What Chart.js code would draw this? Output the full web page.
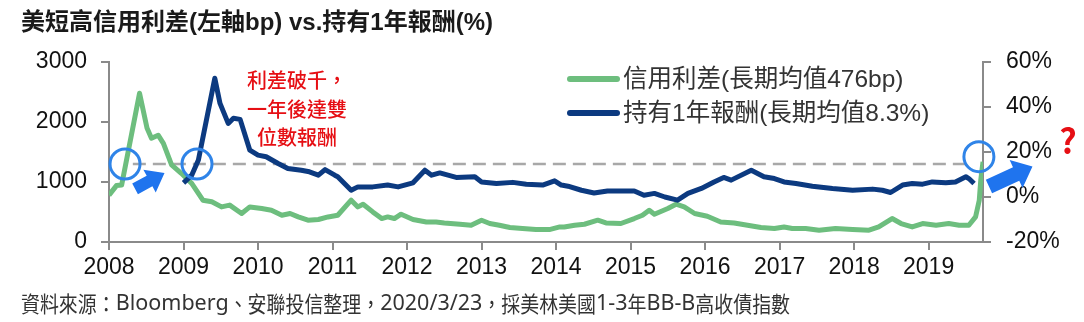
<!DOCTYPE html>
<html>
<head>
<meta charset="utf-8">
<script src="https://cdn.jsdelivr.net/npm/chart.js@4/dist/chart.umd.min.js"></script>
<style>
  html, body { margin: 0; padding: 0; background: #ffffff; }
  #wrap { width: 1084px; height: 322px; position: relative; }
</style>
</head>
<body>
<div id="wrap"><canvas id="chart" width="1084" height="322"></canvas></div>
<script>
// Short-duration US high-yield credit spread (bp, left axis)
const spreadYears = [
  2008.00, 2008.10, 2008.17, 2008.41, 2008.51, 2008.57, 2008.66, 2008.73, 2008.84, 2008.97,
  2009.11, 2009.26, 2009.38, 2009.51, 2009.62, 2009.78, 2009.89, 2010.05, 2010.18, 2010.32,
  2010.43, 2010.54, 2010.67, 2010.81, 2010.94, 2011.07, 2011.25, 2011.34, 2011.41, 2011.54,
  2011.66, 2011.74, 2011.83, 2011.92, 2012.08, 2012.26, 2012.39, 2012.50, 2012.71, 2012.86,
  2013.00, 2013.11, 2013.24, 2013.38, 2013.55, 2013.73, 2013.91, 2014.05, 2014.11, 2014.25,
  2014.38, 2014.56, 2014.67, 2014.87, 2015.05, 2015.16, 2015.25, 2015.32, 2015.50, 2015.61,
  2015.72, 2015.86, 2016.03, 2016.21, 2016.39, 2016.57, 2016.75, 2016.93, 2017.06, 2017.17,
  2017.35, 2017.53, 2017.75, 2017.98, 2018.20, 2018.33, 2018.51, 2018.63, 2018.78, 2018.92,
  2019.10, 2019.27, 2019.41, 2019.54, 2019.63, 2019.68, 2019.70, 2019.73
];
const spreadBp = [
  780, 940, 950, 2480, 1900, 1730, 1780, 1645, 1285, 1145,
  977, 697, 670, 585, 615, 475, 585, 558, 530, 446,
  475, 418, 363, 375, 418, 446, 697, 585, 630, 502,
  391, 418, 391, 463, 375, 334, 334, 318, 296, 279,
  363, 308, 279, 241, 224, 207, 207, 251, 251, 279,
  296, 363, 318, 308, 391, 446, 530, 463, 558, 630,
  585, 475, 430, 334, 318, 279, 241, 224, 251, 224,
  224, 196, 224, 207, 196, 251, 391, 308, 251, 308,
  279, 308, 279, 279, 418, 697, 1032, 1338
];

// 1-year holding return (%, right axis)
const returnYears = [
  2009.00, 2009.11, 2009.20, 2009.42, 2009.49, 2009.60, 2009.67, 2009.76, 2009.89, 2010.00,
  2010.11, 2010.27, 2010.40, 2010.58, 2010.69, 2010.81, 2010.90, 2011.03, 2011.07, 2011.25,
  2011.34, 2011.54, 2011.74, 2011.88, 2012.08, 2012.24, 2012.33, 2012.44, 2012.66, 2012.91,
  2013.00, 2013.20, 2013.42, 2013.60, 2013.82, 2013.98, 2014.07, 2014.16, 2014.34, 2014.51,
  2014.69, 2014.92, 2015.05, 2015.18, 2015.32, 2015.46, 2015.63, 2015.77, 2015.95, 2016.12,
  2016.25, 2016.35, 2016.62, 2016.79, 2016.93, 2017.06, 2017.22, 2017.44, 2017.71, 2017.98,
  2018.25, 2018.38, 2018.49, 2018.65, 2018.78, 2018.92, 2019.05, 2019.23, 2019.36, 2019.50,
  2019.54, 2019.61
];
const returnPct = [
  6.3, 9.7, 16.4, 52.8, 41.6, 32.7, 35.0, 34.5, 20.8, 18.6,
  17.9, 14.9, 12.7, 11.9, 11.2, 9.7, 12.2, 9.7, 9.0, 3.0,
  4.5, 4.5, 5.3, 4.5, 6.3, 11.9, 9.7, 10.7, 8.7, 9.0,
  6.7, 6.0, 6.5, 5.7, 5.3, 7.2, 5.3, 4.8, 3.0, 1.8,
  2.7, 2.7, 2.7, 0.8, 1.6, 0.0, -1.4, 1.6, 3.8, 6.7,
  8.7, 7.5, 11.9, 9.0, 8.2, 6.7, 6.0, 4.8, 3.8, 3.0,
  3.5, 3.0, 2.0, 5.3, 6.0, 5.7, 6.7, 6.3, 6.7, 9.0,
  8.2, 6.0
];

// Reference level (bp) shown as a dashed guide
const guideYears = [2008.32, 2019.58];
const guideBp = [1300, 1300];

// Axis ticks
const yearTicks = [2008, 2009, 2010, 2011, 2012, 2013, 2014, 2015, 2016, 2017, 2018, 2019];
const spreadTicks = [0, 1000, 2000, 3000];
const returnTicks = [-20, 0, 20, 40, 60];

// Text
const titleText = '美短高信用利差(左軸bp) vs.持有1年報酬(%)';
const seriesNames = ['信用利差(長期均值476bp)', '持有1年報酬(長期均值8.3%)'];
const noteLines = ['利差破千，', '一年後達雙', '位數報酬'];
const sourceText = '資料來源：Bloomberg、安聯投信整理，2020/3/23，採美林美國1-3年BB-B高收債指數';

const GREEN = '#6dbe7e';
const NAVY = '#0c3a80';
const AXIS = '#8a8a8a';
const MARK_BLUE = '#2f84e8';
const ARROW_BLUE = '#1f74ee';
const RED = '#e60f14';
const FONT = '"Liberation Sans", Arial, "Noto Sans CJK TC", sans-serif';
const CJK_FONT = '"Noto Sans CJK TC", sans-serif';

const toPoints = (xs, ys) => xs.map((x, i) => ({ x: x, y: ys[i] }));

// Callouts anchored in axis units (year, bp on the left axis)
const callouts = {
  circles: [
    { x: 2008.215, y: 1300, r: 15 },
    { x: 2009.181, y: 1300, r: 15 },
    { x: 2019.675, y: 1422, r: 15 }
  ],
  arrows: [
    { from: [2008.350, 885], to: [2008.745, 1150], shaft: 12, headW: 26, headL: 17 },
    { from: [2019.810, 925], to: [2020.394, 1258], shaft: 15, headW: 31, headL: 18 }
  ],
  note: { x: 2010.523, ys: [2700, 2217, 1750] },
  question: { x: 2020.87, y: 1683 }
};

function blockArrow(ctx, x0, y0, x1, y1, shaft, headW, headL) {
  const dx = x1 - x0, dy = y1 - y0;
  const len = Math.hypot(dx, dy);
  const ux = dx / len, uy = dy / len;
  const nx = -uy, ny = ux;
  const bx = x1 - ux * headL, by = y1 - uy * headL;
  ctx.beginPath();
  ctx.moveTo(x0 + nx * shaft / 2, y0 + ny * shaft / 2);
  ctx.lineTo(bx + nx * shaft / 2, by + ny * shaft / 2);
  ctx.lineTo(bx + nx * headW / 2, by + ny * headW / 2);
  ctx.lineTo(x1, y1);
  ctx.lineTo(bx - nx * headW / 2, by - ny * headW / 2);
  ctx.lineTo(bx - nx * shaft / 2, by - ny * shaft / 2);
  ctx.lineTo(x0 - nx * shaft / 2, y0 - ny * shaft / 2);
  ctx.closePath();
  ctx.fill();
}

// Source line: CJK runs set slightly narrow, whole line fitted to a width
function drawSource(ctx, text, x, y, targetWidth) {
  const isCjk = ch => /[\u3000-\u303f\u3400-\u9fff\uff00-\uffef]/.test(ch);
  const runs = [];
  for (const ch of text) {
    const c = isCjk(ch);
    if (runs.length && runs[runs.length - 1].cjk === c) runs[runs.length - 1].t += ch;
    else runs.push({ t: ch, cjk: c });
  }
  const cjkFont = '22px ' + CJK_FONT, latFont = '22px "Noto Sans", sans-serif';
  const cjkSquash = 0.88;
  let natural = 0;
  runs.forEach(r => {
    ctx.font = r.cjk ? cjkFont : latFont;
    r.w = ctx.measureText(r.t).width * (r.cjk ? cjkSquash : 1);
    natural += r.w;
  });
  const fit = targetWidth / natural;
  ctx.save();
  ctx.translate(x, y);
  ctx.scale(fit, 1);
  let cx = 0;
  runs.forEach(r => {
    ctx.font = r.cjk ? cjkFont : latFont;
    ctx.save();
    ctx.translate(cx, 0);
    if (r.cjk) ctx.scale(cjkSquash, 1);
    ctx.fillText(r.t, 0, 0);
    ctx.restore();
    cx += r.w;
  });
  ctx.restore();
}

const decorations = {
  id: 'decorations',
  afterDatasetsDraw(chart) {
    const ctx = chart.ctx;
    const xs = chart.scales.x, ys = chart.scales.y;
    ctx.save();

    // circles
    ctx.strokeStyle = MARK_BLUE;
    ctx.lineWidth = 3;
    callouts.circles.forEach(c => {
      ctx.beginPath();
      ctx.arc(xs.getPixelForValue(c.x), ys.getPixelForValue(c.y), c.r, 0, Math.PI * 2);
      ctx.stroke();
    });

    // arrows
    ctx.fillStyle = ARROW_BLUE;
    callouts.arrows.forEach(a => {
      blockArrow(ctx,
        xs.getPixelForValue(a.from[0]), ys.getPixelForValue(a.from[1]),
        xs.getPixelForValue(a.to[0]), ys.getPixelForValue(a.to[1]),
        a.shaft, a.headW, a.headL);
    });

    // red note
    ctx.fillStyle = RED;
    ctx.font = '500 20px ' + CJK_FONT;
    ctx.textAlign = 'center';
    ctx.textBaseline = 'middle';
    const nx = xs.getPixelForValue(callouts.note.x);
    noteLines.forEach((t, i) => ctx.fillText(t, nx, ys.getPixelForValue(callouts.note.ys[i])));

    // question mark
    ctx.font = 'bold 34px ' + CJK_FONT;
    ctx.fillText('?', xs.getPixelForValue(callouts.question.x), ys.getPixelForValue(callouts.question.y));

    ctx.restore();
  },
  afterDraw(chart) {
    const ctx = chart.ctx;
    ctx.save();
    // title
    ctx.fillStyle = '#1a1a1a';
    ctx.font = 'bold 24px ' + FONT;
    ctx.textAlign = 'left';
    ctx.textBaseline = 'middle';
    ctx.fillText(titleText, 21, 23);

    // legend
    const legendRows = [{ y: 79, color: GREEN }, { y: 113, color: NAVY }];
    legendRows.forEach((row, i) => {
      ctx.strokeStyle = row.color;
      ctx.lineWidth = 6;
      ctx.lineCap = 'round';
      ctx.beginPath();
      ctx.moveTo(570, row.y);
      ctx.lineTo(617, row.y);
      ctx.stroke();
      ctx.fillStyle = '#333333';
      ctx.font = '24.5px ' + FONT;
      ctx.fillText(seriesNames[i], 623, row.y + 1);
    });

    // source line
    ctx.fillStyle = '#333333';
    drawSource(ctx, sourceText, 21, 304, 769);
    ctx.restore();
  }
};

const tickFont = { family: FONT, size: 23 };

new Chart(document.getElementById('chart'), {
  type: 'line',
  data: {
    datasets: [
      {
        label: 'guide',
        data: toPoints(guideYears, guideBp),
        yAxisID: 'y',
        borderColor: '#a8a8a8',
        borderWidth: 2.5,
        borderDash: [13, 7],
        pointRadius: 0,
        order: 3
      },
      {
        label: seriesNames[0],
        data: toPoints(spreadYears, spreadBp),
        yAxisID: 'y',
        borderColor: GREEN,
        borderWidth: 5,
        pointRadius: 0,
        tension: 0,
        borderJoinStyle: 'round',
        order: 2
      },
      {
        label: seriesNames[1],
        data: toPoints(returnYears, returnPct),
        yAxisID: 'y1',
        borderColor: NAVY,
        borderWidth: 5,
        pointRadius: 0,
        tension: 0,
        borderJoinStyle: 'round',
        order: 1
      }
    ]
  },
  options: {
    responsive: false,
    animation: false,
    devicePixelRatio: 1,
    layout: { padding: { top: 62, left: 0, right: 0, bottom: 0 } },
    plugins: { legend: { display: false }, tooltip: { enabled: false } },
    scales: {
      x: {
        type: 'linear',
        min: 2008,
        max: 2019.73,
        afterBuildTicks: s => { s.ticks = yearTicks.map(v => ({ value: v })); },
        afterFit: s => { s.height = 80; },
        ticks: { font: tickFont, color: '#111111', padding: 4, autoSkip: false, maxRotation: 0, callback: v => String(v) },
        grid: { drawOnChartArea: false, drawTicks: true, tickLength: 8, color: AXIS, lineWidth: 2 },
        border: { color: AXIS, width: 2 }
      },
      y: {
        position: 'left',
        min: 0,
        max: 3000,
        afterBuildTicks: s => { s.ticks = spreadTicks.map(v => ({ value: v })); },
        afterFit: s => { s.width = 109; },
        ticks: { font: tickFont, color: '#111111', padding: 14, callback: v => String(v) },
        grid: { drawOnChartArea: false, drawTicks: true, tickLength: 8, color: AXIS, lineWidth: 2 },
        border: { color: AXIS, width: 2 }
      },
      y1: {
        position: 'right',
        min: -20,
        max: 60,
        afterBuildTicks: s => { s.ticks = returnTicks.map(v => ({ value: v })); },
        afterFit: s => { s.width = 101; },
        ticks: { font: tickFont, color: '#111111', padding: 15, callback: v => v + '%' },
        grid: { drawOnChartArea: false, drawTicks: true, tickLength: 8, color: AXIS, lineWidth: 2 },
        border: { color: AXIS, width: 2 }
      }
    }
  },
  plugins: [decorations]
});
</script>
</body>
</html>
